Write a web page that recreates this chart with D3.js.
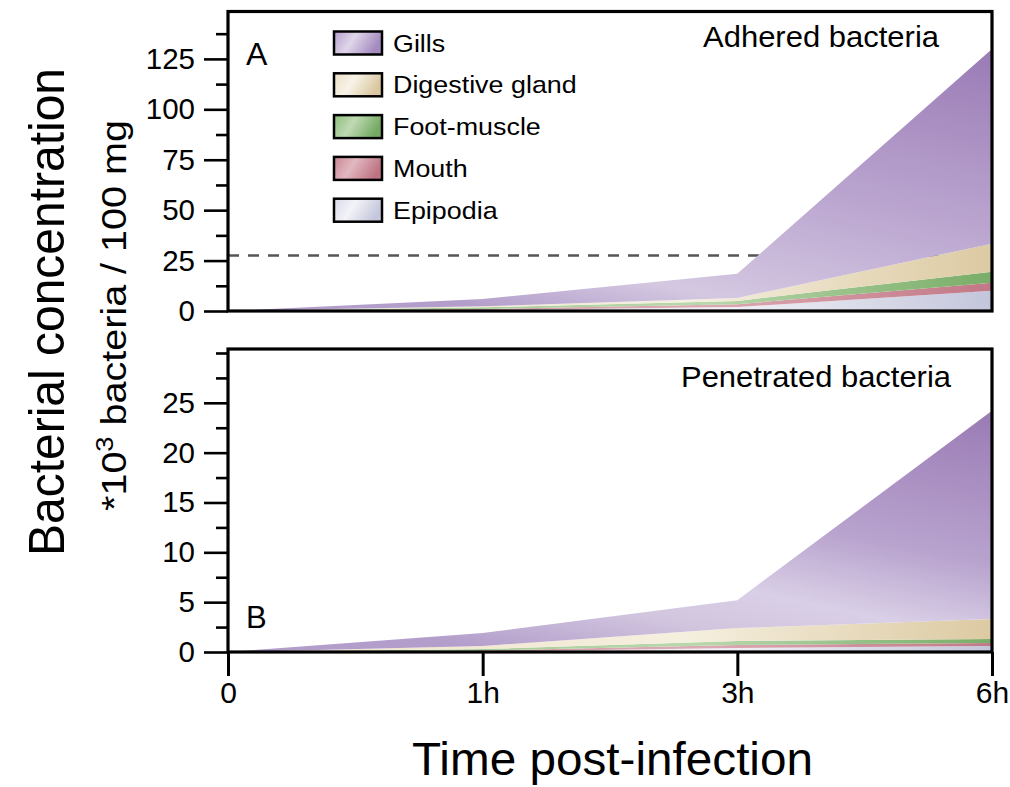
<!DOCTYPE html>
<html><head><meta charset="utf-8">
<script src="https://cdn.jsdelivr.net/npm/d3@7"></script>
<style>
body{margin:0;background:#fff}
text{font-family:"Liberation Sans",Arial,Helvetica,sans-serif;fill:#000}
</style>
</head><body>
<svg id="chart" width="1010" height="787"></svg>
<script>
// ---------- data ----------
const timeLabels = ["0", "1h", "3h", "6h"];
const stackOrder = ["Epipodia", "Mouth", "Foot-muscle", "Digestive gland", "Gills"]; // bottom -> top
const legendOrder = ["Gills", "Digestive gland", "Foot-muscle", "Mouth", "Epipodia"];

const adheredEpipodia  = [0, 0.5, 2.0, 10];
const adheredMouth     = [0, 0.5, 1.4, 4];
const adheredFoot      = [0, 0.8, 1.6, 5.4];
const adheredDigestive = [0, 0.5, 1.5, 14];
const adheredGills     = [0, 3.7, 12.0, 96.5];

const penetratedEpipodia  = [0, 0.05, 0.4, 0.6];
const penetratedMouth     = [0, 0.1, 0.3, 0.3];
const penetratedFoot      = [0, 0.15, 0.4, 0.4];
const penetratedDigestive = [0, 0.3, 1.3, 2.0];
const penetratedGills     = [0, 1.3, 2.8, 20.9];

const adheredTicks = [0, 25, 50, 75, 100, 125];
const penetratedTicks = [0, 5, 10, 15, 20, 25];
const adheredThreshold = 27.5;

// ---------- build rows ----------
function rows(ep, mo, fo, di, gi) {
  return timeLabels.map((t, i) => ({
    time: t, "Epipodia": ep[i], "Mouth": mo[i], "Foot-muscle": fo[i],
    "Digestive gland": di[i], "Gills": gi[i]
  }));
}
const adheredRows = rows(adheredEpipodia, adheredMouth, adheredFoot, adheredDigestive, adheredGills);
const penetratedRows = rows(penetratedEpipodia, penetratedMouth, penetratedFoot, penetratedDigestive, penetratedGills);

const svg = d3.select("#chart");
const defs = svg.append("defs");

// ---------- gradients ----------
const areaStops = {
  "Epipodia": [[0, "#dcdeeb"], [0.65, "#f1f1f7"], [1, "#c3c6db"]],
  "Mouth": [[0, "#cc8b99"], [0.62, "#dcaab4"], [1, "#c27886"]],
  "Foot-muscle": [[0, "#97c287"], [0.62, "#b9d7ac"], [1, "#79ad68"]],
  "Digestive gland": [[0, "#eee2c7"], [0.6, "#f5efdf"], [1, "#dccaa2"]]
};
const legendStops = {
  "Gills": [[0, "#b39dcc"], [0.45, "#e0d6ea"], [1, "#a48ac0"]],
  "Digestive gland": [[0, "#ece0c4"], [0.45, "#f8f3e8"], [1, "#dac7a0"]],
  "Foot-muscle": [[0, "#8cbc7b"], [0.45, "#bfdab3"], [1, "#74aa63"]],
  "Mouth": [[0, "#c98593"], [0.45, "#e2b8c0"], [1, "#bf7484"]],
  "Epipodia": [[0, "#d8dae9"], [0.45, "#f3f3f8"], [1, "#c5c8dc"]]
};
function makeGrad(id, stops, x1, y1, x2, y2) {
  const g = defs.append("linearGradient").attr("id", id)
    .attr("x1", x1).attr("y1", y1).attr("x2", x2).attr("y2", y2);
  stops.forEach(s => g.append("stop").attr("offset", s[0]).attr("stop-color", s[1]));
}
const slug = k => k.replace(/[^a-z]/gi, "");
["A", "B"].forEach(p => {
  Object.keys(areaStops).forEach(k => makeGrad("g" + p + slug(k), areaStops[k], 0, 0, 1, 0));
});
makeGrad("gAGills", [[0, "#b39ecb"], [0.17, "#d4c8e1"], [0.5, "#bba6d0"], [1, "#9a7bb5"]], 0.35, 1, 1, 0);
makeGrad("gBGills", [[0, "#b39ecb"], [0.2, "#d2c6df"], [0.33, "#d9cfe6"], [0.55, "#b8a3ce"], [1, "#9a7bb5"]], 0.35, 1, 1, 0);
Object.keys(legendStops).forEach(k => makeGrad("leg" + slug(k), legendStops[k], 0, 0, 1, 0.3));

// ---------- scales ----------
const x = d3.scalePoint().domain(timeLabels).range([228, 992]);
const stack = d3.stack().keys(stackOrder);

function panel(id, data, yMax, bottom, top, majorTicks, minorStep, threshold) {
  const y = d3.scaleLinear().domain([0, yMax]).range([bottom, top]);
  const g = svg.append("g");
  if (threshold != null) {
    g.append("line")
      .attr("x1", x(timeLabels[0])).attr("x2", x(timeLabels[timeLabels.length - 1]))
      .attr("y1", y(threshold)).attr("y2", y(threshold))
      .attr("stroke", "#555").attr("stroke-width", 2.5).attr("stroke-dasharray", "11,9");
  }
  const area = d3.area().x(d => x(d.data.time)).y0(d => y(d[0])).y1(d => y(d[1]));
  g.selectAll("path.layer").data(stack(data)).enter().append("path")
    .attr("class", "layer")
    .attr("d", area)
    .attr("fill", d => "url(#g" + id + slug(d.key) + ")");

  // minor ticks
  const minorVals = d3.range(0, yMax, minorStep).filter(v => majorTicks.indexOf(v) < 0);
  const minorAxis = d3.axisLeft(y).tickValues(minorVals).tickSize(12).tickFormat("");
  const ma = svg.append("g").attr("transform", "translate(228,0)").call(minorAxis);
  ma.select(".domain").remove();
  ma.selectAll("line").attr("stroke", "#000").attr("stroke-width", 2.6);

  const majorAxis = d3.axisLeft(y).tickValues(majorTicks).tickSize(24).tickPadding(9);
  const mj = svg.append("g").attr("transform", "translate(228,0)").call(majorAxis);
  mj.select(".domain").remove();
  mj.selectAll("line").attr("stroke", "#000").attr("stroke-width", 2.6);
  mj.selectAll("text").attr("font-size", 29.5).attr("font-family", "Liberation Sans, Arial, sans-serif").attr("fill", "#000");

  // frame
  svg.append("rect").attr("x", 228).attr("y", top).attr("width", 992 - 228).attr("height", bottom - top)
    .attr("fill", "none").attr("stroke", "#000").attr("stroke-width", 3.2);
  return y;
}

const yA = panel("A", adheredRows, 148.5, 311, 11.5, adheredTicks, 12.5, adheredThreshold);
const yB = panel("B", penetratedRows, 30.4, 652, 349, penetratedTicks, 2.5, null);

// x axis on bottom panel
const xAxis = d3.axisBottom(x).tickSize(24).tickPadding(6);
const xa = svg.append("g").attr("transform", "translate(0,652)").call(xAxis);
xa.select(".domain").remove();
xa.selectAll("line").attr("stroke", "#000").attr("stroke-width", 3);
xa.selectAll("text").attr("font-size", 30).attr("font-family", "Liberation Sans, Arial, sans-serif").attr("fill", "#000");

// panel labels
svg.append("text").attr("x", 246).attr("y", 65).attr("font-size", 32).text("A");
svg.append("text").attr("x", 246).attr("y", 628).attr("font-size", 31).text("B");
svg.append("text").attr("x", 703).attr("y", 47).attr("font-size", 29).attr("textLength", 236)
  .attr("lengthAdjust", "spacingAndGlyphs").text("Adhered bacteria");
svg.append("text").attr("x", 681).attr("y", 387).attr("font-size", 29).attr("textLength", 270)
  .attr("lengthAdjust", "spacingAndGlyphs").text("Penetrated bacteria");

// legend
const leg = svg.append("g");
legendOrder.forEach((k, i) => {
  const yy = 31.5 + i * 41.8;
  leg.append("rect").attr("x", 334).attr("y", yy).attr("width", 48).attr("height", 23)
    .attr("fill", "url(#leg" + slug(k) + ")").attr("stroke", "#000").attr("stroke-width", 2.5);
  leg.append("text").attr("transform", "translate(393," + (yy + 20) + ") scale(1.12,1)")
    .attr("font-size", 24).text(k);
});

// axis titles
svg.append("text").attr("x", 412).attr("y", 775).attr("font-size", 46)
  .attr("textLength", 401).attr("lengthAdjust", "spacingAndGlyphs").text("Time post-infection");
svg.append("text").attr("transform", "translate(64,556) rotate(-90)").attr("font-size", 50)
  .attr("textLength", 488).attr("lengthAdjust", "spacingAndGlyphs").text("Bacterial concentration");
const t2 = svg.append("text").attr("transform", "translate(126,511) rotate(-90)").attr("font-size", 35)
  .attr("textLength", 391).attr("lengthAdjust", "spacingAndGlyphs");
t2.append("tspan").text("*10");
t2.append("tspan").attr("font-size", 24).attr("dy", -13).text("3");
t2.append("tspan").attr("dy", 13).text(" bacteria / 100 mg");
</script>
</body></html>
